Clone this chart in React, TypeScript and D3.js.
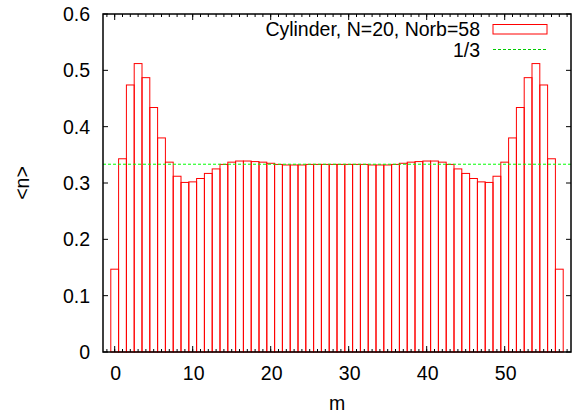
import React from "react";
import * as d3 from "d3";

const values: number[] = [
  0.147, 0.343, 0.474, 0.512, 0.487, 0.434, 0.380, 0.337, 0.312, 0.301,
  0.302, 0.308, 0.317, 0.325, 0.333, 0.337, 0.339, 0.339, 0.338, 0.337,
  0.335, 0.333, 0.332, 0.332, 0.332, 0.333, 0.333, 0.333, 0.333,
  0.333, 0.333, 0.333, 0.333, 0.332, 0.332, 0.332, 0.333, 0.335,
  0.337, 0.338, 0.339, 0.339, 0.337, 0.333, 0.325, 0.317, 0.308, 0.302,
  0.301, 0.312, 0.337, 0.380, 0.434, 0.487, 0.512, 0.474, 0.343, 0.147,
];
const xTicks: number[] = [0, 10, 20, 30, 40, 50];
const yTicks: number[] = [0, 0.1, 0.2, 0.3, 0.4, 0.5, 0.6];
const refLine = 1 / 3;
const seriesLabel = "Cylinder, N=20, Norb=58";
const refLabel = "1/3";

const W = 574, H = 416;
const L = 103, R = 571, T = 14, B = 352;
const FONT = "Liberation Sans, Arial, Helvetica, sans-serif";
const FS = 19.5;

export default function App() {
  const x = d3.scaleLinear().domain([-1.5, 58.5]).range([L, R]);
  const y = d3.scaleLinear().domain([0, 0.6]).range([B, T]);
  const minor = d3.range(-1, 59);
  const fmt = (v: number) => (v === 0 ? "0" : d3.format(".1f")(v));
  return (
    <svg width={W} height={H} style={{ position: "absolute", left: 0, top: 0, background: "#fff" }}>
      {values.map((v, i) => (
        <rect key={i} x={x(i - 0.5)} y={y(v)} width={x(i + 0.5) - x(i - 0.5)} height={y(0) - y(v)}
          fill="none" stroke="#ff0000" strokeWidth={1} />
      ))}
      <line x1={L} x2={R} y1={y(refLine)} y2={y(refLine)} stroke="#00ff00" strokeWidth={1} strokeDasharray="3,2" />
      {minor.map((t) => (
        <g key={"mt" + t}>
          <line x1={x(t)} x2={x(t)} y1={B} y2={B - 3} stroke="#000" strokeWidth={1} />
          <line x1={x(t)} x2={x(t)} y1={T} y2={T + 3} stroke="#000" strokeWidth={1} />
        </g>
      ))}
      {xTicks.map((t) => (
        <g key={"xt" + t}>
          <line x1={x(t)} x2={x(t)} y1={B} y2={B - 6} stroke="#000" strokeWidth={1} />
          <line x1={x(t)} x2={x(t)} y1={T} y2={T + 6} stroke="#000" strokeWidth={1} />
          <text x={x(t) + 1} y={B + 21} textAnchor="middle" dominantBaseline="central" fontFamily={FONT} fontSize={FS} fill="#000">{t}</text>
        </g>
      ))}
      {yTicks.map((t) => (
        <g key={"yt" + t}>
          <line x1={L} x2={L + 5} y1={y(t)} y2={y(t)} stroke="#000" strokeWidth={1} />
          <line x1={R} x2={R - 5} y1={y(t)} y2={y(t)} stroke="#000" strokeWidth={1} />
          <text x={90} y={y(t)} textAnchor="end" dominantBaseline="central" fontFamily={FONT} fontSize={FS} fill="#000">{fmt(t)}</text>
        </g>
      ))}
      <rect x={L} y={T} width={R - L} height={B - T} fill="none" stroke="#000" strokeWidth={1.5} />
      <text x={(L + R) / 2} y={403} textAnchor="middle" dominantBaseline="central" fontFamily={FONT} fontSize={FS} fill="#000">m</text>
      <text transform={`translate(22,${(T + B) / 2}) rotate(-90)`} textAnchor="middle" dominantBaseline="central" fontFamily={FONT} fontSize={FS} fill="#000">{"<n>"}</text>
      <text x={480} y={29} textAnchor="end" dominantBaseline="central" fontFamily={FONT} fontSize={FS} fill="#000">{seriesLabel}</text>
      <rect x={493} y={24.5} width={54} height={9.5} fill="none" stroke="#ff0000" strokeWidth={1} />
      <text x={480} y={50} textAnchor="end" dominantBaseline="central" fontFamily={FONT} fontSize={FS} fill="#000">{refLabel}</text>
      <line x1={493} x2={547} y1={49.5} y2={49.5} stroke="#00cc00" strokeWidth={1} strokeDasharray="3,2" />
    </svg>
  );
}
